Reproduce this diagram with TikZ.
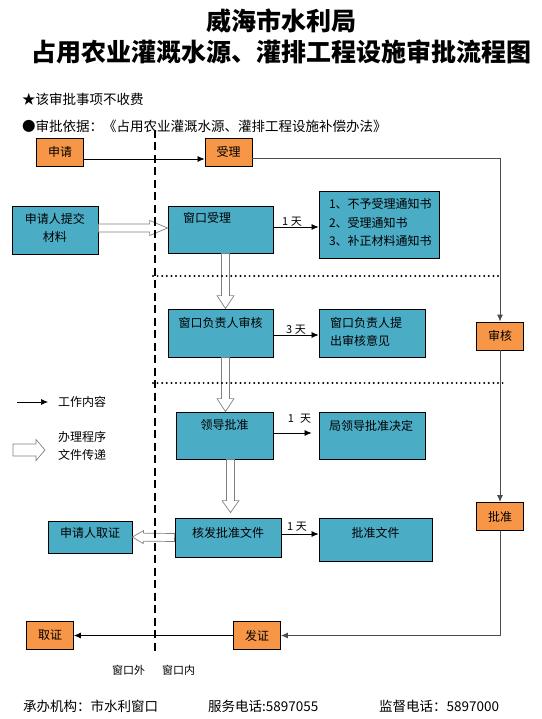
\documentclass[tikz,border=0pt]{standalone}
\usepackage{fontspec}
\setmainfont{Noto Sans CJK SC}
\usetikzlibrary{calc,arrows.meta}
\definecolor{boxblue}{HTML}{4BACC6}
\definecolor{boxorange}{HTML}{F79646}
\newcommand{\bodyfont}{\fontsize{12}{18}\selectfont}
\newcommand{\notefont}{\fontsize{13.5}{16}\selectfont}
\newcommand{\dayfont}{\fontsize{11}{13}\selectfont}

\begin{document}
\begin{tikzpicture}[x=1pt, y=-1pt, >={Latex[length=7pt,width=6pt]},
  bluebox/.style={draw, line width=0.8pt, fill=boxblue, font=\bodyfont, inner ysep=0pt},
  orangebox/.style={draw, line width=0.8pt, fill=boxorange, font=\bodyfont, inner sep=0pt, minimum width=47pt, minimum height=28pt},
  work/.style={->, line width=0.7pt},
  route/.style={->, line width=1pt, black!70},
  day/.style={above, inner sep=0pt, font=\dayfont},
  notetext/.style={anchor=west, inner sep=0pt, font=\notefont},
  hollow/.style args={#1/#2/#3}{draw=gray, fill=white, line width=0.7pt, to path={
    -- ($(\tikztostart)!#1!90:(\tikztotarget)$)
    -- ($(\tikztotarget)!#3!(\tikztostart)!#1!90:(\tikztotarget)$)
    -- ($(\tikztotarget)!#3!(\tikztostart)!#2!90:(\tikztotarget)$)
    -- (\tikztotarget)
    -- ($(\tikztotarget)!#3!(\tikztostart)!#2!-90:(\tikztotarget)$)
    -- ($(\tikztotarget)!#3!(\tikztostart)!#1!-90:(\tikztotarget)$)
    -- ($(\tikztostart)!#1!-90:(\tikztotarget)$)
    -- cycle}}]
  \useasboundingbox (0,0) rectangle (541,719);

  \node(title1)[inner sep=0pt] at (281,21) {\fontsize{25}{28}\selectfont\bfseries 威海市水利局};
  \node(title2)[inner sep=0pt] at (281,52) {\fontsize{25}{28}\selectfont\bfseries 占用农业灌溉水源、灌排工程设施审批流程图};
  \node(fee)[notetext] at (22,99) {★该审批事项不收费};
  \node(basis)[notetext] at (22,126) {●审批依据：《占用农业灌溉水源、灌排工程设施补偿办法》};

  \node(apply)[orangebox] at (60,152) {申请};
  \node(accept)[orangebox] at (228.5,152) {受理};
  \node(review)[orangebox] at (500,336) {审核};
  \node(approve)[orangebox] at (500,516.5) {批准};
  \node(issuecert)[orangebox] at (257,635.5) {发证};
  \node(collect)[orangebox] at (50,635.5) {取证};

  \node(submit)[bluebox, text width=86pt, inner xsep=0pt, align=center, text height=17.6pt, text depth=30.4pt] at (55,230) {申请人提交\\材料};
  \node(window)[bluebox, text width=75pt, inner xsep=15pt, align=left, text height=16.6pt, text depth=30.4pt] at (220.5,229.5) {窗口受理};
  \node(notice)[bluebox, font=\fontsize{12}{18.5}\selectfont, text width=100pt, inner xsep=10pt, align=left, text height=17.6pt, text depth=49.4pt] at (379,224.5) {1、不予受理通知书\\2、受理通知书\\3、补正材料通知书};
  \node(lead)[bluebox, text width=105pt, inner xsep=0pt, align=center, text height=18.6pt, text depth=29.4pt] at (220.5,333) {窗口负责人审核};
  \node(opinion)[bluebox, text width=84pt, inner xsep=11pt, align=left, text height=18.6pt, text depth=29.4pt] at (372,333) {窗口负责人提\\出审核意见};
  \node(leader)[bluebox, text width=97pt, inner xsep=0pt, align=center, text height=17.6pt, text depth=29.4pt] at (224.5,435.5) {领导批准};
  \node(decide)[bluebox, text width=86pt, inner xsep=10pt, align=left, text height=18.6pt, text depth=28.4pt] at (372,435.5) {局领导批准决定};
  \node(issue)[bluebox, text width=106pt, inner xsep=0pt, align=center, text height=19.6pt, text depth=19.4pt] at (228,537.5) {核发批准文件};
  \node(docs)[bluebox, text width=113pt, inner xsep=0pt, align=center, text height=19.6pt, text depth=23.4pt] at (375.5,539.5) {批准文件};
  \node(pickup)[bluebox, text width=84pt, inner xsep=0pt, align=center, text height=16.6pt, text depth=15.4pt] at (90,537) {申请人取证};

  \draw[work] ([yshift=-7pt]apply.east) -- ([yshift=-7pt]accept.west);
  \draw[route] ([yshift=-7pt]accept.east) -| (review.north);
  \draw[route] (review.south) -- (approve.north);
  \draw[route] (approve.south) |- (issuecert.east);
  \draw[work] (issuecert.west) -- (collect.east);
  \draw[work] ([yshift=2.5pt]window.east) -- ([yshift=2.5pt]window.east -| notice.west) node[day, midway, xshift=-4pt] {1 天};
  \draw[work] ([yshift=-2pt]lead.east) -- ([yshift=-2pt]lead.east -| opinion.west) node[day, midway] {3 天};
  \draw[work] ([yshift=2.5pt]leader.east) -- ([shift={(-7pt,2.5pt)}]leader.east -| decide.west) node[day, midway, xshift=7pt, yshift=9pt] {1\hspace{6pt}天};
  \draw[work] ([yshift=3.5pt]issue.east) -- ([yshift=3.5pt]issue.east -| docs.west) node[day, midway, xshift=-3pt, yshift=2pt] {1 天};

  \draw[hollow=4pt/7.5pt/18pt] ([yshift=2pt]submit.east) to ([yshift=1.5pt]window.west);
  \draw[hollow=4pt/8.5pt/13pt] ([xshift=5pt]window.south) to ([xshift=5pt]lead.north);
  \draw[hollow=4pt/8.5pt/13pt] ([xshift=5pt]lead.south) to ([xshift=1pt]leader.north);
  \draw[hollow=4pt/8.5pt/12pt] ([xshift=6pt]leader.south) to ([shift={(2.5pt,5pt)}]issue.north);
  \draw[hollow=4pt/6.5pt/11pt] (issue.west) to (pickup.east);

  \coordinate(keya) at (17,402);
  \coordinate(keyb) at (48,402);
  \draw[work] (keya) -- (keyb);
  \node(keywork)[anchor=west, inner sep=0pt, font=\bodyfont] at (58,402) {工作内容};
  \coordinate(keyc) at (13,450);
  \coordinate(keyd) at (45,450);
  \draw[hollow=6pt/10.5pt/9pt] (keyc) to (keyd);
  \node(keyfile)[anchor=west, inner sep=0pt, font=\bodyfont, align=left] at (58,446) {办理程序\\文件传递};

  \draw[line width=2.2pt, line cap=round, dash pattern=on 0pt off 4.6pt] (153,276) -- (500,276);
  \draw[line width=2.2pt, line cap=round, dash pattern=on 0pt off 4.6pt] (153,383) -- (503,383);
  \draw[line width=1.5pt, dash pattern=on 8pt off 4.5pt] (155,130) -- (155,652);

  \node(outside)[font=\dayfont] at (128.5,670) {窗口外};
  \node(inside)[font=\dayfont] at (178.5,670) {窗口内};
  \node(office)[notetext] at (23,706) {承办机构：市水利窗口};
  \node(service)[notetext] at (208,706) {服务电话:5897055};
  \node(supervise)[notetext] at (379,706) {监督电话：5897000};
\end{tikzpicture}
\end{document}
